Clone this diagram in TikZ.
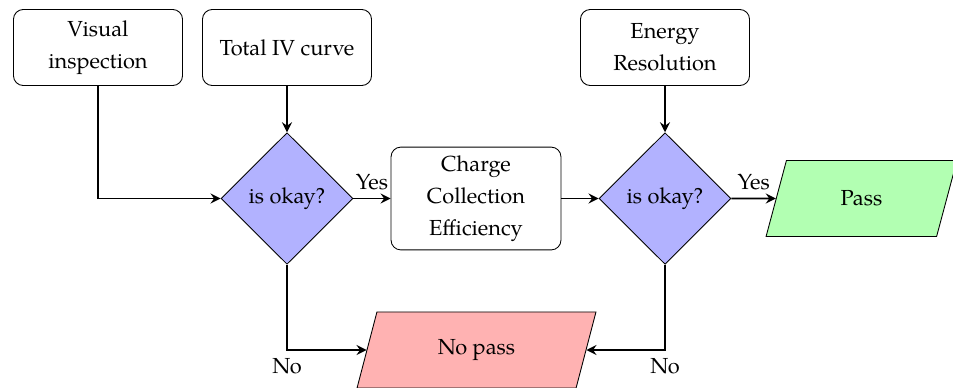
\documentclass[tikz,border=0pt]{standalone}
\usepackage{fontspec}
\setmainfont{TeX Gyre Pagella}
\usetikzlibrary{shapes.geometric,arrows.meta}
\begin{document}
\begin{tikzpicture}[x=0.459pt,y=-0.459pt,
  every node/.style={font=\fontsize{10}{14.7}\selectfont},
  box/.style={draw, rounded corners=4.5pt, align=center, minimum width=77.6pt, minimum height=34.9pt, inner sep=0pt},
  dec/.style={draw, diamond, fill=blue!30, minimum width=60.6pt, minimum height=60.4pt, inner sep=0pt, aspect=1},
  io/.style={draw, trapezium, trapezium left angle=70, trapezium right angle=110, trapezium stretches=true, minimum height=34.9pt, inner sep=0pt},
  arr/.style={line width=0.9pt, -{Stealth[length=4.6pt,width=4.6pt,inset=1.6pt]}}
]
\useasboundingbox (0,0) rectangle (953,387);
\node[box] (vi) at (98,47.5) {Visual\\inspection};
\node[box] (iv) at (287,47.5) {Total IV curve};
\node[box] (er) at (665,47.5) {Energy\\Resolution};
\node[dec] (d1) at (287,198.5) {is okay?};
\node[box, minimum width=78pt, minimum height=47.2pt] (cce) at (476,198.5) {Charge\\Collection\\Efficiency};
\node[dec] (d2) at (665,198.5) {is okay?};
\node[io, fill=green!30, minimum width=87.7pt] (pass) at (861.5,198.5) {Pass};
\node[io, fill=red!30, minimum width=109.7pt] (np) at (476.5,350) {No pass};
\draw[arr] (vi.south) |- (d1.west);
\draw[arr] (iv.south) -- (d1.north);
\draw[arr] (d1.east) -- node[above]{Yes} (cce.west);
\draw[arr] (cce.east) -- (d2.west);
\draw[arr] (er.south) -- (d2.north);
\draw[arr] (d2.east) -- node[above]{Yes} (pass.west);
\draw[arr] (d1.south) |- node[pos=0.5, below]{No} (np.west);
\draw[arr] (d2.south) |- node[pos=0.5, below]{No} (np.east);
\end{tikzpicture}
\end{document}
